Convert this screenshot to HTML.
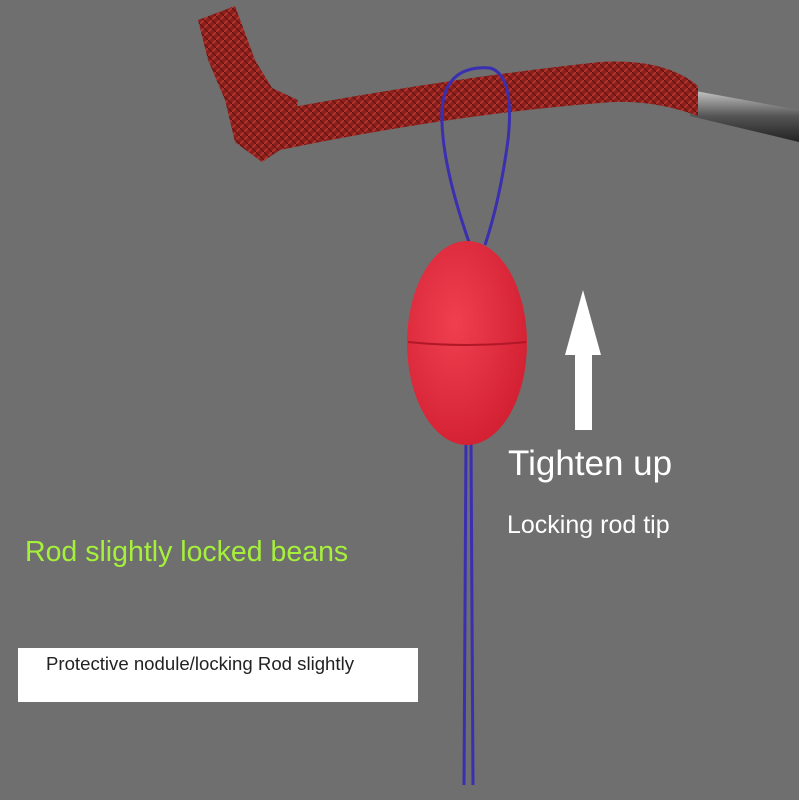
<!DOCTYPE html>
<html><head><meta charset="utf-8"><style>
html,body{margin:0;padding:0}
body{width:799px;height:800px;background:#6e6f6e;position:relative;overflow:hidden;font-family:"Liberation Sans",sans-serif}
.t{position:absolute;white-space:nowrap}
</style></head><body>
<svg width="799" height="800" style="position:absolute;left:0;top:0">
<defs>
<linearGradient id="m" x1="0" y1="0" x2="0" y2="1"><stop offset="0" stop-color="#c8c8c8"/><stop offset="0.5" stop-color="#555"/><stop offset="1" stop-color="#222"/></linearGradient>
<radialGradient id="b" cx="0.4" cy="0.4" r="0.7"><stop offset="0" stop-color="#f04050"/><stop offset="1" stop-color="#d01e30"/></radialGradient>
<pattern id="br" width="8" height="8" patternUnits="userSpaceOnUse"><rect width="8" height="8" fill="#8a1f1c"/><path d="M0 8L8 0" stroke="#b2322c" stroke-width="2"/><path d="M0 0L8 8" stroke="#5e1210" stroke-width="1"/></pattern>
</defs>
<path d="M690 90 L799 110 L799 142 L690 116 Z" fill="url(#m)"/>
<path d="M265 112 Q450 78 600 62 Q665 58 698 86 L698 116 Q650 98 600 103 Q450 115 280 150 Z" fill="url(#br)"/>
<path d="M198 20 L235 6 L255 60 L272 88 L298 100 L292 142 L262 162 L235 142 L225 100 L208 60 Z" fill="url(#br)"/>
<path d="M470 245 Q440 160 442 110 Q445 65 490 68 Q515 75 508 140 Q500 200 485 245" fill="none" stroke="#3a2fb0" stroke-width="3"/>
<path d="M466 440 L464 785 M471 440 L473 785" stroke="#3a2fb0" stroke-width="3"/>
<ellipse cx="467" cy="343" rx="60" ry="102" fill="url(#b)"/>
<path d="M408 342 Q467 348 526 342" stroke="#b01828" stroke-width="2" fill="none"/>
<rect x="575" y="353" width="17" height="77" fill="#fff"/>
<polygon points="583,290 565,355 601,355" fill="#fff"/>
</svg>
<div class="t" style="left:508px;top:444px;font-size:35px;color:#fff">Tighten up</div>
<div class="t" style="left:507px;top:511px;font-size:25px;color:#fff">Locking rod tip</div>
<div class="t" style="left:25px;top:536px;font-size:28.5px;color:#a6f03c">Rod slightly locked beans</div>
<div style="position:absolute;left:18px;top:648px;width:400px;height:54px;background:#fff"></div>
<div class="t" style="left:46px;top:653px;font-size:18.6px;color:#222">Protective nodule/locking Rod slightly</div>
</body></html>
